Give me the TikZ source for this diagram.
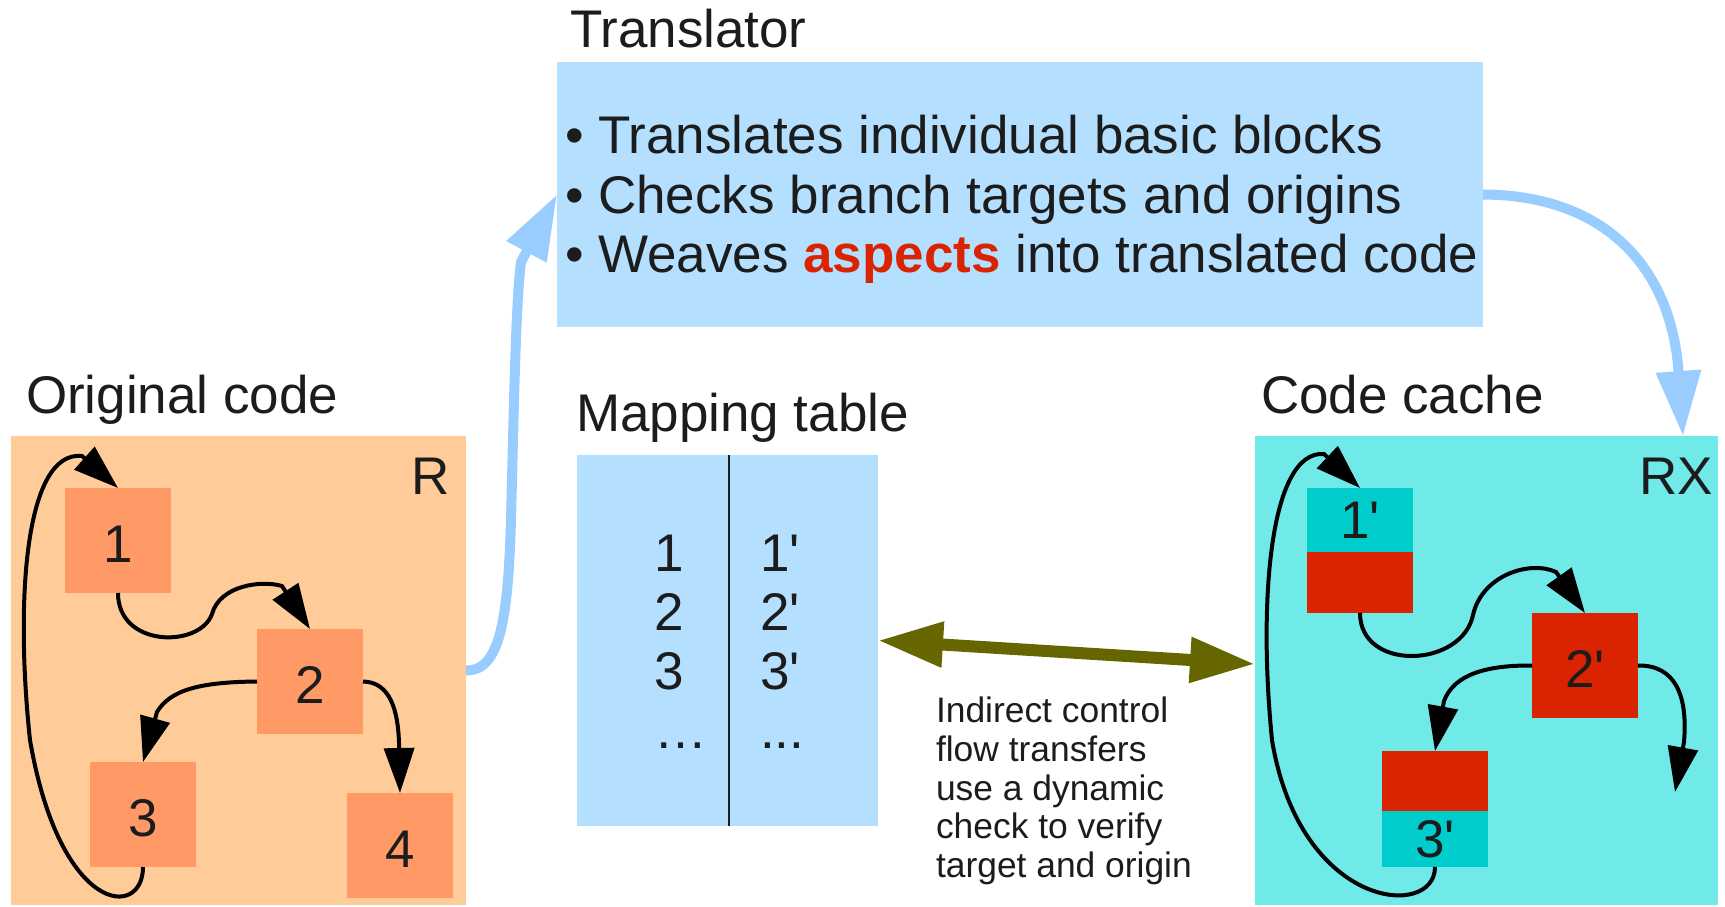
\documentclass[tikz,border=0pt]{standalone}
\usepackage{fontspec}
\setmainfont{Liberation Sans}
\usetikzlibrary{arrows.meta}
\definecolor{origbg}{HTML}{FFCC99}
\definecolor{origbox}{HTML}{FF9966}
\definecolor{cachebg}{HTML}{6FEAE8}
\definecolor{cachebox}{HTML}{00CCCC}
\definecolor{redbox}{HTML}{DA2300}
\definecolor{transbg}{HTML}{B4DFFF}
\definecolor{arrblue}{HTML}{99CCFF}
\definecolor{olivec}{HTML}{666600}
\definecolor{txt}{HTML}{1C1C1C}
\begin{document}
\begin{tikzpicture}[x=1pt,y=-1pt,
  big/.style={font=\fontsize{53}{60}\selectfont, text=txt, inner sep=0pt, outer sep=0pt},
  small/.style={font=\fontsize{35.4}{39}\selectfont, text=txt, inner sep=0pt, outer sep=0pt},
  area/.style={inner sep=0pt, outer sep=0pt, anchor=north west},
  blk/.style={area, minimum width=106pt, minimum height=105pt, fill=origbox, big},
  lowtext/.style={text height=44pt, text depth=0pt},
  flow/.style={draw=black, line width=4pt, -{Triangle[length=45pt,width=30pt]}},
  feed/.style={draw=arrblue, line width=10pt, -{Triangle[length=65pt,width=43pt]}},
  link/.style={draw=olivec, line width=12pt, {Triangle[length=65pt,width=43pt]}-{Triangle[length=65pt,width=43pt]}},
  lbl/.style={big, anchor=base west},
  note/.style={small, anchor=base west}
]
\useasboundingbox (0,0) rectangle (1725,906);

% background areas
\node[area, fill=origbg, minimum width=455pt, minimum height=469pt] (orig) at (11,436) {};
\node[area, fill=cachebg, minimum width=463pt, minimum height=469pt] (cache) at (1255,436) {};
\node[area, fill=transbg, minimum width=926pt, minimum height=265pt] (trans) at (557,62) {};
\node[area, fill=transbg, minimum width=301pt, minimum height=371pt] (map) at (577,455) {};

% original blocks
\node[blk, lowtext] (b1) at (65,488) {1};
\node[blk, lowtext] (b2) at (257,629) {2};
\node[blk, lowtext] (b3) at (90,762) {3};
\node[blk, lowtext] (b4) at (347,793) {4};

% cache blocks
\node[blk, fill=cachebox, minimum height=64pt] (c1t) at (1307,488) {1\textquotesingle};
\node[blk, fill=redbox, minimum height=61pt] (c1b) at (1307,552) {};
\node[blk, lowtext, fill=redbox] (c2) at (1532,613) {2\textquotesingle};
\node[blk, fill=redbox, minimum height=60pt] (c3t) at (1382,751) {};
\node[blk, fill=cachebox, minimum height=56pt] (c3b) at (1382,811) {3\textquotesingle};

% titles
\node[lbl] (ltrans) at (570,47) {Translator};
\node[lbl] (lorig) at (26,413) {Original code};
\node[lbl] (lcache) at (1261,413) {Code cache};
\node[lbl] (lmap) at (576,431) {Mapping table};
\node[lbl] (lR) at (411,494) {R};
\node[lbl] (lRX) at (1639,494) {RX};

% translator bullets
\node[lbl] (t1) at (565,153) {\textbullet\ Translates individual basic blocks};
\node[lbl] (t2) at (565,213) {\textbullet\ Checks branch targets and origins};
\node[lbl] (t3) at (565,272) {\textbullet\ Weaves \textcolor{redbox}{\textbf{aspects}} into translated code};

% mapping table
\draw[line width=1.3pt, draw=txt] ([xshift=1.5pt]map.north) -- ([xshift=1.5pt]map.south);
\node[lbl] (m11) at (654,571) {1};
\node[lbl] (m12) at (654,630) {2};
\node[lbl] (m13) at (654,689) {3};
\node[lbl] (m14) at (654,748) {…};
\node[lbl] (m21) at (760,571) {1\textquotesingle};
\node[lbl] (m22) at (760,630) {2\textquotesingle};
\node[lbl] (m23) at (760,689) {3\textquotesingle};
\node[lbl] (m24) at (760,748) {...};

% note
\node[note] (n1) at (936,722) {Indirect control};
\node[note] (n2) at (936,761) {flow transfers};
\node[note] (n3) at (936,800) {use a dynamic};
\node[note] (n4) at (936,838) {check to verify};
\node[note] (n5) at (936,877) {target and origin};

% free ends
\coordinate (out2) at (1675,792);
\coordinate (cacheIn) at (1683,436);
\coordinate (cacheL) at (1255,664);

% original code flow
\draw[flow] (b1.south) .. controls (118,648) and (200,648) .. (212,614) .. controls (220,585) and (262,580) .. (282,586) -- (b2.north);
\draw[flow] (b2.west) .. controls (200,682) and (170,690) .. (157,712) -- (b3.north);
\draw[flow] (b2.east) .. controls (390,682) and (398,710) .. (399,743) -- (b4.north);
\draw[flow] (b3.south) .. controls (143,920) and (60,915) .. (30,740) .. controls (15,600) and (25,450) .. (82,456) -- (b1.north);

% code cache flow
\draw[flow] (c1b.south) .. controls (1360,672) and (1462,668) .. (1473,615) .. controls (1482,575) and (1530,560) .. (1556,572) -- (c2.north);
\draw[flow] (c2.west) .. controls (1475,665) and (1452,680) .. (1444,701) -- (c3t.north);
\draw[flow] (c2.east) .. controls (1675,665) and (1688,695) .. (1684,742) -- (out2);
\draw[flow] (c3b.south) .. controls (1435,920) and (1300,910) .. (1272,740) .. controls (1258,600) and (1270,450) .. (1324,454) -- (c1t.north);

% blue feed arrows
\draw[feed] (orig.east) .. controls (500,671) and (508,620) .. (511,520) .. controls (514,400) and (516,300) .. (521,262) -- (trans.west);
\draw[feed] (trans.east) .. controls (1600,195) and (1668,262) .. (1678,365) -- (cacheIn);

% olive link
\draw[link] (map.east) -- (cacheL);
\end{tikzpicture}
\end{document}
